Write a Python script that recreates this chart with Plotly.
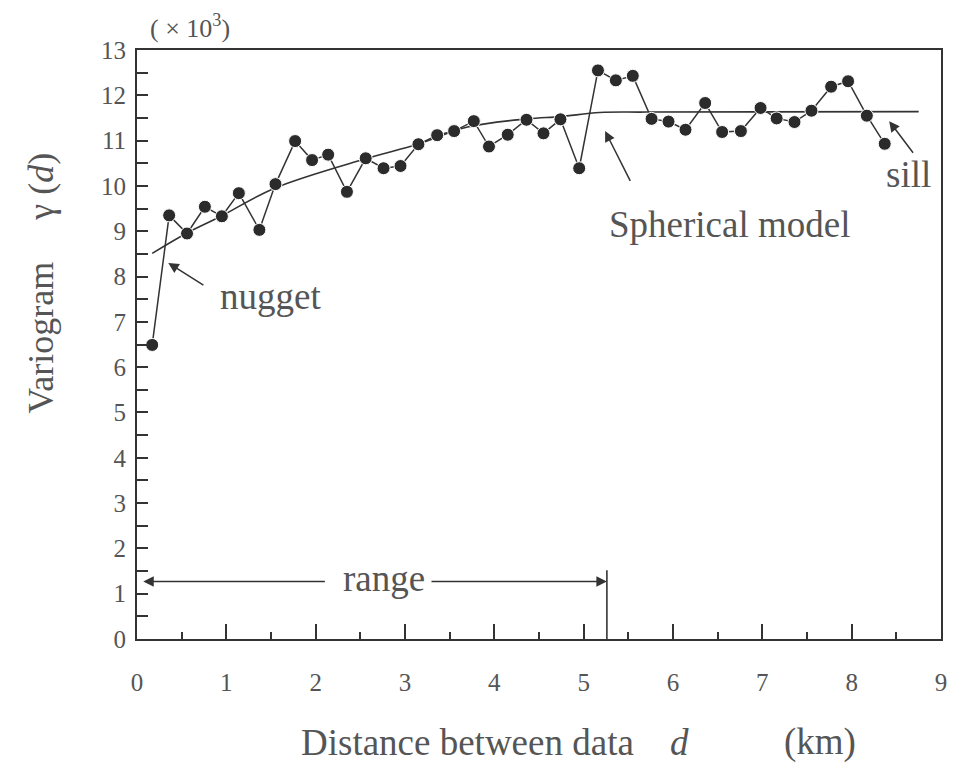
import plotly.graph_objects as go

# Experimental variogram points (distance km, gamma x10^3)
distance_km = [0.17, 0.36, 0.56, 0.76, 0.95, 1.14, 1.37, 1.55, 1.77, 1.96,
               2.14, 2.35, 2.56, 2.76, 2.95, 3.15, 3.36, 3.55, 3.77, 3.94,
               4.15, 4.36, 4.55, 4.74, 4.95, 5.16, 5.36, 5.55, 5.76, 5.95,
               6.14, 6.36, 6.55, 6.76, 6.98, 7.16, 7.36, 7.55, 7.77, 7.96,
               8.17, 8.37]
variogram = [6.49, 9.35, 8.95, 9.54, 9.33, 9.84, 9.03, 10.04, 10.99, 10.57,
             10.69, 9.87, 10.61, 10.39, 10.44, 10.92, 11.12, 11.21, 11.43, 10.87,
             11.13, 11.46, 11.16, 11.47, 10.39, 12.55, 12.33, 12.43, 11.48, 11.42,
             11.24, 11.83, 11.19, 11.21, 11.72, 11.49, 11.41, 11.66, 12.19, 12.31,
             11.55, 10.93]

# Spherical model curve
model_x = [0.17, 0.55, 0.94, 1.54, 2.56, 3.14, 3.70, 4.37, 4.74, 5.18, 5.70, 8.75]
model_y = [8.51, 8.95, 9.33, 9.95, 10.60, 10.92, 11.30, 11.48, 11.53, 11.62, 11.63, 11.64]

x_ticks = [0, 1, 2, 3, 4, 5, 6, 7, 8, 9]
y_ticks = [0, 1, 2, 3, 4, 5, 6, 7, 8, 9, 10, 11, 12, 13]

INK = "#333333"
TXT = "#555555"
FONT = "Liberation Serif"

# page offsets (plot area in page pixels: x 137..947, y 50..639; body margin 8)
PX0, PX1, PY0, PY1 = 137, 947, 50, 639


def px_to_paper_x(px):
    return (px - PX0) / (PX1 - PX0)


def py_to_paper_y(py):
    return (PY1 - py) / (PY1 - PY0)


fig = go.Figure()
fig.add_trace(go.Scatter(
    x=model_x, y=model_y, mode="lines",
    line=dict(color=INK, width=1.6, shape="spline", smoothing=1.0),
    hoverinfo="skip", showlegend=False))
fig.add_trace(go.Scatter(
    x=distance_km, y=variogram, mode="lines+markers",
    line=dict(color=INK, width=1.5),
    marker=dict(color="#2b2b2b", size=13, line=dict(color="white", width=1)),
    showlegend=False))

# range marker: vertical bar
fig.add_shape(type="line", x0=5.26, x1=5.26, y0=0, y1=1.52,
              line=dict(color=INK, width=1.6))

ann = []


def arrow(hx, hy, tx, ty):
    ann.append(dict(x=hx, y=hy, ax=tx, ay=ty, xref="x", yref="y", axref="x", ayref="y",
                    text="", showarrow=True, arrowhead=2, arrowsize=1.4,
                    arrowwidth=1.5, arrowcolor=INK))


def label(x, y, text, size=37, xref="x", yref="y", angle=0):
    ann.append(dict(x=x, y=y, xref=xref, yref=yref, text=text, showarrow=False,
                    textangle=angle, xanchor="center", yanchor="middle",
                    font=dict(family=FONT, size=size, color=TXT)))


arrow(0.07, 1.27, 2.12, 1.27)
arrow(5.26, 1.27, 3.28, 1.27)
label(2.76, 1.33, "range")

arrow(0.35, 8.30, 0.76, 7.79)
label(1.49, 7.55, "nugget")

arrow(5.24, 11.21, 5.53, 10.08)
label(6.63, 9.15, "Spherical model")

arrow(8.42, 11.43, 8.70, 10.70)
label(8.64, 10.26, "sill")

# top-left unit label
label(px_to_paper_x(190), py_to_paper_y(27), "( × 10<sup>3</sup>)", size=26,
      xref="paper", yref="paper")

# axis titles
ty = py_to_paper_y(742)
label(px_to_paper_x(470), ty, "Distance between data", size=37, xref="paper", yref="paper")
label(px_to_paper_x(684), ty, "<i>d</i>", size=37, xref="paper", yref="paper")
label(px_to_paper_x(825), ty, "(km)", size=37, xref="paper", yref="paper")

label(px_to_paper_x(40), py_to_paper_y(338), "Variogram", size=36,
      xref="paper", yref="paper", angle=-90)
label(px_to_paper_x(40), py_to_paper_y(187), "γ (<i>d</i>)", size=36,
      xref="paper", yref="paper", angle=-90)

fig.update_layout(
    width=950, height=758,
    margin=dict(l=PX0 - 8, r=8 + 950 - PX1, t=PY0 - 8, b=8 + 758 - PY1),
    paper_bgcolor="white", plot_bgcolor="white",
    annotations=ann,
    font=dict(family=FONT, color=TXT),
)
fig.update_xaxes(
    range=[0, 9], tickvals=x_ticks, ticktext=[str(v) for v in x_ticks],
    ticks="inside", ticklen=15, tickwidth=1.5, tickcolor=INK,
    minor=dict(dtick=0.5, tick0=0, ticks="inside", ticklen=7, tickwidth=1.5, tickcolor=INK),
    showline=True, linecolor=INK, linewidth=2, mirror=True,
    showgrid=False, zeroline=False,
    tickfont=dict(family=FONT, size=25, color=TXT),
    ticklabelstandoff=20,
)
fig.update_yaxes(
    range=[0, 13], tickvals=y_ticks, ticktext=[str(v) for v in y_ticks],
    ticks="inside", ticklen=11, tickwidth=1.5, tickcolor=INK,
    minor=dict(dtick=0.5, tick0=0, ticks="inside", ticklen=11, tickwidth=1.5, tickcolor=INK),
    showline=True, linecolor=INK, linewidth=2, mirror=True,
    showgrid=False, zeroline=False,
    tickfont=dict(family=FONT, size=25, color=TXT),
    ticklabelstandoff=4,
)

fig.write_html("out.html")
